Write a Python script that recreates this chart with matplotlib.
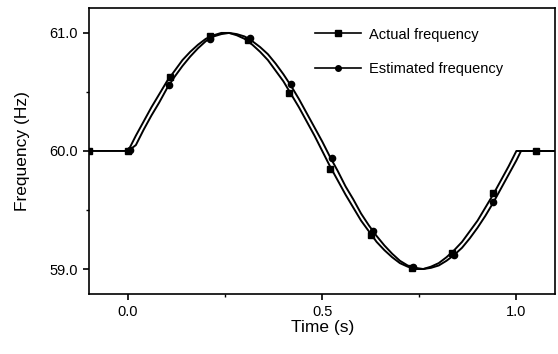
import matplotlib
matplotlib.use("Agg")
import matplotlib.pyplot as plt
from matplotlib.lines import Line2D

plt.rcParams['font.family'] = ['Liberation Sans', 'DejaVu Sans']

# Continuous traces
t_act = [-0.1, 0.00, 0.02, 0.04, 0.06, 0.08, 0.10, 0.12, 0.14, 0.16, 0.18, 0.20, 0.22, 0.24,
         0.26, 0.28, 0.30, 0.32, 0.34, 0.36, 0.38, 0.40, 0.42, 0.44, 0.46, 0.48, 0.50,
         0.52, 0.54, 0.56, 0.58, 0.60, 0.62, 0.64, 0.66, 0.68, 0.70, 0.72, 0.74, 0.76,
         0.78, 0.80, 0.82, 0.84, 0.86, 0.88, 0.90, 0.92, 0.94, 0.96, 0.98, 1.00, 1.10]
f_act = [60.00, 60.00, 60.13, 60.25, 60.37, 60.48, 60.59, 60.68, 60.77, 60.84, 60.90, 60.95, 60.98, 61.00,
         61.00, 60.98, 60.95, 60.90, 60.84, 60.77, 60.68, 60.59, 60.48, 60.37, 60.25, 60.13, 60.00,
         59.87, 59.75, 59.63, 59.52, 59.41, 59.32, 59.23, 59.16, 59.10, 59.05, 59.02, 59.00, 59.00,
         59.02, 59.05, 59.10, 59.16, 59.23, 59.32, 59.41, 59.52, 59.63, 59.75, 59.87, 60.00, 60.00]

t_est = [0.00, 0.02, 0.04, 0.06, 0.08, 0.10, 0.12, 0.14, 0.16, 0.18, 0.20, 0.22, 0.24,
         0.26, 0.28, 0.30, 0.32, 0.34, 0.36, 0.38, 0.40, 0.42, 0.44, 0.46, 0.48, 0.50,
         0.52, 0.54, 0.56, 0.58, 0.60, 0.62, 0.64, 0.66, 0.68, 0.70, 0.72, 0.74, 0.76,
         0.78, 0.80, 0.82, 0.84, 0.86, 0.88, 0.90, 0.92, 0.94, 0.96, 0.98, 1.00, 1.012, 1.10]
f_est = [60.00, 60.05, 60.18, 60.30, 60.41, 60.53, 60.63, 60.72, 60.80, 60.87, 60.93, 60.97, 60.99,
         61.00, 60.99, 60.97, 60.93, 60.88, 60.82, 60.74, 60.65, 60.55, 60.44, 60.32, 60.20, 60.08,
         59.95, 59.83, 59.70, 59.59, 59.47, 59.37, 59.28, 59.20, 59.13, 59.07, 59.03, 59.01, 59.00,
         59.01, 59.03, 59.07, 59.12, 59.18, 59.26, 59.35, 59.45, 59.56, 59.68, 59.80, 59.92, 60.00, 60.00]

# Marker samples
tm_act = [-0.1, 0.00, 0.108, 0.21, 0.31, 0.415, 0.52, 0.625, 0.73, 0.835, 0.94, 1.05]
fm_act = [60.00, 60.00, 60.63, 60.97, 60.94, 60.49, 59.85, 59.29, 59.01, 59.14, 59.64, 60.00]
tm_est = [0.005, 0.105, 0.21, 0.315, 0.42, 0.525, 0.63, 0.735, 0.84, 0.94]
fm_est = [60.01, 60.56, 60.95, 60.96, 60.57, 59.94, 59.32, 59.02, 59.12, 59.57]

fig = plt.figure(figsize=(5.58, 3.54), dpi=100)
ax = fig.add_axes([0.16, 0.17, 0.835, 0.807])

ax.plot(t_act, f_act, color='black', lw=1.4)
ax.plot(t_est, f_est, color='black', lw=1.4)
ax.plot(tm_act, fm_act, ls='none', marker='s', ms=4.5, color='black')
ax.plot(tm_est, fm_est, ls='none', marker='o', ms=4.5, color='black')

ax.set_xlim(-0.1, 1.1)
ax.set_ylim(58.79, 61.21)
ax.set_xticks([0.0, 0.5, 1.0])
ax.set_xticklabels(['0.0', '0.5', '1.0'])
ax.set_xticks([0.25, 0.75], minor=True)
ax.set_yticks([59.0, 60.0, 61.0])
ax.set_yticklabels(['59.0', '60.0', '61.0'])
ax.set_yticks([59.5, 60.5], minor=True)
ax.tick_params(which='major', direction='out', length=4, width=1.2, labelsize=10.5, pad=4)
ax.tick_params(which='minor', direction='out', length=2.5, width=1.0)
for s in ax.spines.values():
    s.set_linewidth(1.2)

ax.set_xlabel('Time (s)', fontsize=12.5, labelpad=1)
ax.set_ylabel('Frequency (Hz)', fontsize=12.5, labelpad=14)

h1 = Line2D([], [], color='black', lw=1.2, marker='s', ms=4)
h2 = Line2D([], [], color='black', lw=1.2, marker='o', ms=4)
ax.legend([h1, h2], ['Actual frequency', 'Estimated frequency'], loc='upper left',
          bbox_to_anchor=(0.457, 0.978), frameon=False, fontsize=10.5, handlelength=3.1,
          labelspacing=1.39, handletextpad=0.55)

fig.savefig('out.png', dpi=100)
